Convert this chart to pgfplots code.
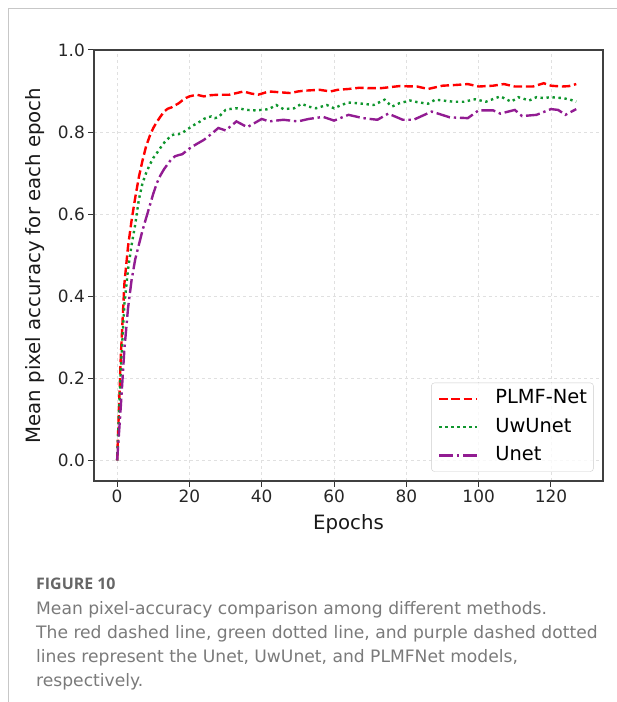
\documentclass[border=0pt]{standalone}
\usepackage{fontspec}
\setmainfont{DejaVu Sans}
\newfontfamily\capfont{Open Sans}
\newfontfamily\bodyfont{DejaVu Sans}
\usepackage{pgfplots}
\pgfplotsset{compat=1.18}
\definecolor{cred}{HTML}{FF0000}
\definecolor{cgreen}{HTML}{10962E}
\definecolor{cpurple}{HTML}{921C92}
\definecolor{capgray}{HTML}{666666}
\definecolor{bodygray}{HTML}{7A7A7A}
\begin{document}
\begin{tikzpicture}
\useasboundingbox (0,0) rectangle (617bp,702bp);
\draw[black!22, line width=1bp] (8bp,0) -- (8bp,693bp) -- (617bp,693bp);
\begin{axis}[
  at={(94bp,221bp)}, anchor=south west,
  scale only axis, width=509bp, height=431bp,
  xmin=-6.4, xmax=134.4, ymin=-0.05, ymax=1.0,
  xtick={0,20,...,120}, ytick={0,0.2,0.4,0.6,0.8,1.0},
  yticklabel style={/pgf/number format/fixed,/pgf/number format/precision=1,/pgf/number format/fixed zerofill},
  /pgf/number format/assume math mode=true,
  tick label style={font=\fontsize{17}{20}\selectfont, color=black!85},
  tick align=outside, tick pos=left, major tick length=5.6bp,
  tick style={line width=1bp, color=black!80},
  axis line style={line width=1.1bp, color=black!75},
  grid=major, grid style={dashed, line width=0.8bp, color=black!12},
  xlabel={Epochs}, ylabel={Mean pixel accuracy for each epoch},
  label style={font=\fontsize{19.8}{23}\selectfont, color=black!90},
  xlabel style={yshift=-5bp},
  ylabel style={yshift=7bp},
  legend style={at={(1,0)}, anchor=south east, xshift=-9.4bp, yshift=9.3bp,
    rounded corners=3bp, draw=black!20, fill=white, fill opacity=0.8, text opacity=1,
    font=\fontsize{19.5}{23}\selectfont, inner xsep=6.5bp, inner ysep=7bp, row sep=10.3bp,
    nodes={inner sep=0pt, text height=14bp, text depth=4bp},
    /tikz/every odd column/.append style={column sep=17bp}},
  legend cell align=left,
  legend image code/.code={\draw[#1] (0bp,0bp) -- (38bp,0bp);},
  every axis plot/.append style={line width=2.4bp},
]
\addplot[cred, dash pattern=on 8.5bp off 3.8bp] coordinates {
(0,0) (1,0.25) (2,0.43) (3,0.52) (4,0.585) (5,0.64) (6,0.69) (7,0.73) (8,0.765) (9,0.79) (10,0.81)
(11,0.825) (12,0.838) (13,0.85) (14,0.857) (15,0.86) (16,0.865) (17,0.87) (18,0.877) (19,0.883)
(20,0.887) (22,0.891) (24,0.887) (26,0.890) (28,0.891) (31,0.891) (33,0.895) (35,0.899) (37,0.894)
(39,0.891) (42,0.899) (45,0.897) (48,0.895) (50,0.899) (52,0.901) (56,0.903) (59,0.899) (61,0.903)
(64,0.905) (67,0.908) (70,0.907) (73,0.907) (76,0.910) (78,0.912) (83,0.911) (86,0.905) (90,0.913)
(94,0.915) (97,0.917) (100,0.911) (104,0.913) (107,0.917) (110,0.911) (115,0.911) (118,0.919)
(120,0.913) (123,0.911) (125,0.912) (127,0.917)
};
\addlegendentry{PLMF-Net}
\addplot[cgreen, dash pattern=on 2.4bp off 3.6bp] coordinates {
(0,0) (1,0.22) (2,0.38) (3,0.465) (4,0.525) (5,0.575) (6,0.635) (7,0.675) (8,0.70) (9,0.72) (10,0.737)
(11,0.749) (12,0.762) (13,0.774) (14,0.783) (15,0.792) (16,0.795) (17,0.795) (18,0.798) (19,0.804)
(20,0.81) (21,0.816) (22,0.821) (23,0.826) (24,0.832) (25,0.836) (26,0.838) (27,0.834) (28,0.836)
(29,0.845) (30,0.854) (31,0.856) (33,0.858) (34,0.857) (36,0.854) (38,0.853) (40,0.854) (42,0.856)
(44,0.866) (46,0.856) (49,0.858) (51,0.869) (53,0.862) (55,0.858) (58,0.866) (60,0.858) (62,0.866)
(64,0.872) (67,0.870) (71,0.866) (74,0.879) (76,0.862) (78,0.870) (81,0.877) (83,0.873) (86,0.869)
(88,0.879) (91,0.876) (93,0.874) (96,0.874) (99,0.880) (102,0.874) (106,0.887) (109,0.874)
(111,0.885) (114,0.877) (116,0.885) (118,0.883) (120,0.885) (123,0.883) (125,0.880) (127,0.874)
};
\addlegendentry{UwUnet}
\addplot[cpurple, dash pattern=on 14bp off 3.8bp on 2.4bp off 3.8bp] coordinates {
(0,0) (1,0.13) (2,0.27) (3,0.37) (4,0.44) (5,0.49) (6,0.525) (7,0.56) (8,0.59) (9,0.62) (10,0.65)
(11,0.676) (12,0.695) (13,0.71) (14,0.722) (15,0.734) (16,0.741) (17,0.744) (18,0.746) (19,0.753)
(20,0.760) (22,0.771) (24,0.781) (26,0.795) (28,0.810) (30,0.804) (33,0.826) (36,0.812) (40,0.832)
(42,0.826) (46,0.830) (50,0.826) (53,0.832) (57,0.837) (60,0.828) (64,0.842) (68,0.834) (72,0.830)
(75,0.845) (79,0.830) (82,0.830) (87,0.850) (92,0.836) (97,0.834) (100,0.853) (104,0.853) (106,0.845)
(110,0.854) (112,0.839) (116,0.842) (120,0.856) (122,0.854) (124,0.842) (127,0.856)
};
\addlegendentry{Unet}
\end{axis}
\begin{scope}[every node/.style={anchor=base west, inner sep=0pt, text=bodygray}]
\node[text=capgray] at (36bp,112bp) {\capfont\bfseries\fontsize{16}{20}\selectfont FIGURE 10};
\node at (36bp,87bp) {\bodyfont\fontsize{17.2}{20}\selectfont Mean pixel-accuracy comparison among different methods.};
\node at (36bp,63.5bp) {\bodyfont\fontsize{17.2}{20}\selectfont The red dashed line, green dotted line, and purple dashed dotted};
\node at (36bp,39.5bp) {\bodyfont\fontsize{17.2}{20}\selectfont lines represent the Unet, UwUnet, and PLMFNet models,};
\node at (36bp,16bp) {\bodyfont\fontsize{17.2}{20}\selectfont respectively.};
\end{scope}
\end{tikzpicture}
\end{document}
